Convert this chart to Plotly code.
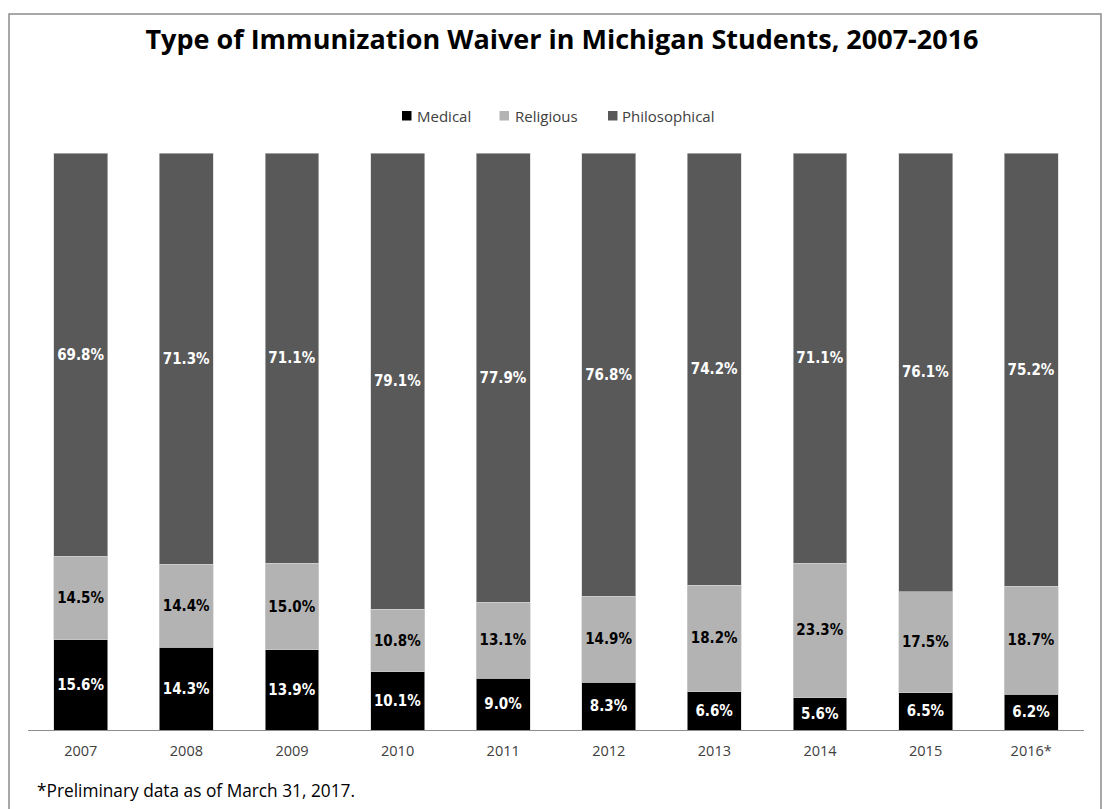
import plotly.graph_objects as go

years = ["2007", "2008", "2009", "2010", "2011", "2012", "2013", "2014", "2015", "2016*"]
medical = [15.6, 14.3, 13.9, 10.1, 9.0, 8.3, 6.6, 5.6, 6.5, 6.2]
religious = [14.5, 14.4, 15.0, 10.8, 13.1, 14.9, 18.2, 23.3, 17.5, 18.7]
philosophical = [69.8, 71.3, 71.1, 79.1, 77.9, 76.8, 74.2, 71.1, 76.1, 75.2]

W, H = 1111, 809
L, R, T, B = 28, 27, 153, 79
PW, PH = W - L - R, H - T - B


def px_x(p):
    return (p - L) / PW


def px_y(p):
    return (H - B - p) / PH


series = [
    ("Medical", medical, "#000000", "#ffffff"),
    ("Religious", religious, "#b3b3b3", "#000000"),
    ("Philosophical", philosophical, "#595959", "#ffffff"),
]

fig = go.Figure()
for name, vals, color, tcolor in series:
    fig.add_trace(go.Bar(
        name=name,
        x=years,
        y=vals,
        marker=dict(color=color, line=dict(color="#d0d0d0", width=0.6)),
        text=[f"{v:.1f}%" for v in vals],
        textposition="inside",
        insidetextanchor="middle",
        textangle=0,
        constraintext="none",
        textfont=dict(family="DejaVu Sans Condensed, DejaVu Sans", size=15,
                      color=tcolor, weight="bold"),
        hoverinfo="skip",
        showlegend=False,
    ))

fig.update_layout(
    width=W, height=H,
    barmode="stack",
    barnorm="percent",
    bargap=0.49,
    plot_bgcolor="#ffffff",
    paper_bgcolor="#ffffff",
    margin=dict(l=L, r=R, t=T, b=B),
    uniformtext=dict(mode=False),
    title=dict(
        text="<b>Type of Immunization Waiver in Michigan Students, 2007-2016</b>",
        x=px_x(562), xanchor="center", xref="paper",
        y=1 - 40 / H, yanchor="middle",
        font=dict(family="Open Sans", size=27, color="#000000"),
    ),
    showlegend=False,
    xaxis=dict(
        showline=True, linecolor="#8c8c8c", linewidth=1,
        ticks="outside", ticklen=8, tickcolor="rgba(0,0,0,0)",
        tickfont=dict(family="Open Sans", size=14.5, color="#404040"),
        showgrid=False, zeroline=False, fixedrange=True,
    ),
    yaxis=dict(
        range=[0, 100], visible=False, showgrid=False, zeroline=False, fixedrange=True,
    ),
)

# chart frame
fig.add_shape(
    type="rect", xref="paper", yref="paper",
    x0=px_x(9), x1=px_x(1101), y0=px_y(830), y1=px_y(14),
    line=dict(color="#8c8c8c", width=1.5), fillcolor="rgba(0,0,0,0)", layer="below",
)

# legend: swatch + label per series
legend_pos = [(402, 416), (499.5, 514), (608, 621)]
for (name, _, color, _), (sx, tx) in zip(series, legend_pos):
    fig.add_shape(
        type="rect", xref="paper", yref="paper",
        x0=px_x(sx), x1=px_x(sx + 9.5), y0=px_y(120.5), y1=px_y(111),
        line=dict(width=0), fillcolor=color,
    )
    fig.add_annotation(
        text=name, xref="paper", yref="paper",
        x=px_x(tx), xanchor="left", y=px_y(116), yanchor="middle",
        showarrow=False, xshift=-1,
        font=dict(family="Open Sans", size=15, color="#404040"),
    )

fig.add_annotation(
    text="*Preliminary data as of March 31, 2017.",
    xref="paper", yref="paper",
    x=px_x(35), xanchor="left",
    y=px_y(790), yanchor="middle",
    showarrow=False,
    font=dict(family="Open Sans", size=17.3, color="#000000"),
)

fig.write_html("out.html")
